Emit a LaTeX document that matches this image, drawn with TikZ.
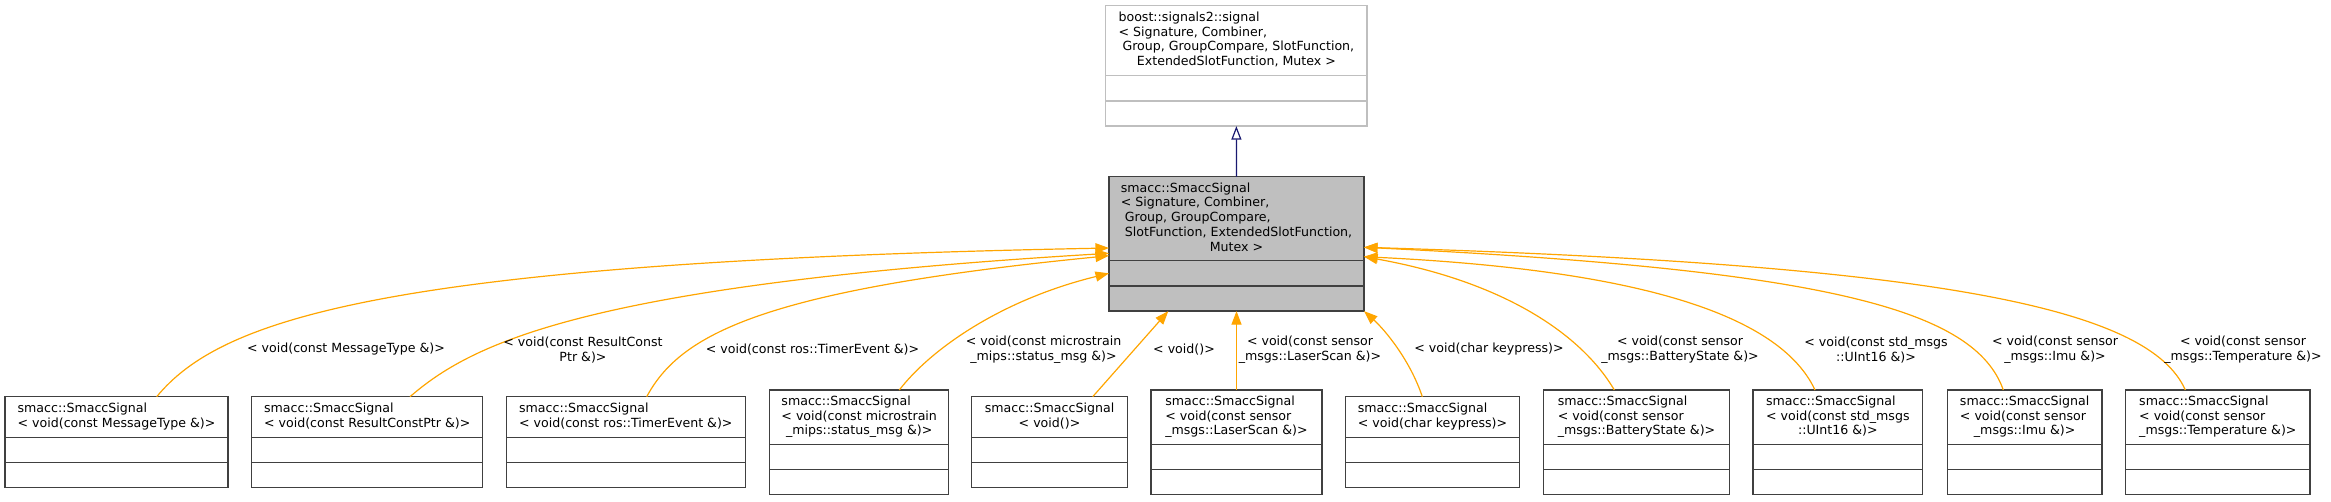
\documentclass[tikz,border=0pt]{standalone}
\usepackage{fontspec}
\setmainfont{DejaVu Sans}
\usetikzlibrary{positioning,arrows.meta}
\definecolor{grey75}{HTML}{BFBFBF}
\definecolor{clsline}{HTML}{404040}
\definecolor{edgeorange}{HTML}{FFA500}
\definecolor{navy}{HTML}{191970}
\newcommand{\clstext}[2]{\begin{tabular}{@{}l@{}}#1\\\multicolumn{1}{@{}c@{}}{#2}\end{tabular}}

\begin{document}
\begin{tikzpicture}[x=1pt,y=-1pt,font=\fontsize{12.6}{14.7}\selectfont]
		\tikzstyle{cls}=[draw=clsline,line width=1.3pt,fill=white,inner sep=0pt,outer sep=0pt,anchor=north]
		\tikzstyle{body}=[cls,minimum height=50.4,path picture={\draw[clsline,line width=1.3pt] (path picture bounding box.west) -- (path picture bounding box.east);}]
		\tikzstyle{gbody}=[body,draw=grey75,path picture={\draw[grey75,line width=1.3pt] (path picture bounding box.west) -- (path picture bounding box.east);}]
		\tikzstyle{tmpl}=[draw=edgeorange,line width=1.2pt,-{Triangle[length=13.5pt,width=10pt]}]
		\tikzstyle{inh}=[draw=navy,line width=1.2pt,-{Triangle[open,length=13.5pt,width=10pt]}]
		\tikzstyle{lbl}=[align=center,inner sep=0pt]
		\useasboundingbox (0,0) rectangle (2331,501);

		% base and main class
		\node (base) at (1236.35,5.7) [cls,draw=grey75,minimum width=261.3,minimum height=70] {\clstext{boost::signals2::signal\\< Signature, Combiner,\\\ Group, GroupCompare, SlotFunction,}{ExtendedSlotFunction, Mutex >}};
		\node (baseb) [gbody,minimum width=261.3,below=0pt of base] {};
		\node (sig) at (1236.5,176.7) [cls,fill=grey75,minimum width=255,minimum height=84] {\clstext{smacc::SmaccSignal\\< Signature, Combiner,\\\ Group, GroupCompare,\\\ SlotFunction, ExtendedSlotFunction,}{Mutex >}};
		\node (sigb) [body,fill=grey75,minimum width=255,below=0pt of sig] {};

		% template instances
		\node (msg) at (116.5,396.7) [cls,minimum width=223,minimum height=40.6] {\clstext{smacc::SmaccSignal}{< void(const MessageType \&)>}};
		\node (msgb) [body,minimum width=223,below=0pt of msg] {};
		\node (res) at (367.2,396.7) [cls,minimum width=231,minimum height=40.6] {\clstext{smacc::SmaccSignal}{< void(const ResultConstPtr \&)>}};
		\node (resb) [body,minimum width=231,below=0pt of res] {};
		\node (timer) at (625.8,396.7) [cls,minimum width=239,minimum height=40.6] {\clstext{smacc::SmaccSignal}{< void(const ros::TimerEvent \&)>}};
		\node (timerb) [body,minimum width=239,below=0pt of timer] {};
		\node (mips) at (859.2,390) [cls,minimum width=179,minimum height=54.3] {\clstext{smacc::SmaccSignal\\< void(const microstrain}{\_mips::status\_msg \&)>}};
		\node (mipsb) [body,minimum width=179,below=0pt of mips] {};
		\node (void) at (1049.5,396.7) [cls,minimum width=155.6,minimum height=40.6] {\clstext{smacc::SmaccSignal}{< void()>}};
		\node (voidb) [body,minimum width=155.6,below=0pt of void] {};
		\node (laser) at (1236.5,390) [cls,minimum width=171,minimum height=54.3] {\clstext{smacc::SmaccSignal\\< void(const sensor}{\_msgs::LaserScan \&)>}};
		\node (laserb) [body,minimum width=171,below=0pt of laser] {};
		\node (key) at (1432.5,396.7) [cls,minimum width=173.6,minimum height=40.6] {\clstext{smacc::SmaccSignal}{< void(char keypress)>}};
		\node (keyb) [body,minimum width=173.6,below=0pt of key] {};
		\node (batt) at (1636.5,390) [cls,minimum width=185.6,minimum height=54.3] {\clstext{smacc::SmaccSignal\\< void(const sensor}{\_msgs::BatteryState \&)>}};
		\node (battb) [body,minimum width=185.6,below=0pt of batt] {};
		\node (uint) at (1837.85,390) [cls,minimum width=169.7,minimum height=54.3] {\clstext{smacc::SmaccSignal\\< void(const std\_msgs}{::UInt16 \&)>}};
		\node (uintb) [body,minimum width=169.7,below=0pt of uint] {};
		\node (imu) at (2024.65,390) [cls,minimum width=154.7,minimum height=54.3] {\clstext{smacc::SmaccSignal\\< void(const sensor}{\_msgs::Imu \&)>}};
		\node (imub) [body,minimum width=154.7,below=0pt of imu] {};
		\node (temp) at (2217.85,390) [cls,minimum width=184.3,minimum height=54.3] {\clstext{smacc::SmaccSignal\\< void(const sensor}{\_msgs::Temperature \&)>}};
		\node (tempb) [body,minimum width=184.3,below=0pt of temp] {};

		\draw [inh] (sig.north) -- (baseb.south);

		\draw [tmpl] ([xshift=40.2pt]msg.north) .. controls (220,320) and (380,262) .. ([yshift=12.7pt]sig.south west);
		\draw [tmpl] ([xshift=42.8pt]res.north) .. controls (470,345) and (580,285) .. ([yshift=7.4pt]sig.south west);
		\draw [tmpl] ([xshift=20.9pt]timer.north) .. controls (680,335) and (760,290) .. ([yshift=5pt]sig.south west);
		\draw [tmpl] ([xshift=40.1pt]mips.north) .. controls (930,350) and (1000,300) .. ([yshift=-12.6pt]sigb.north west);
		\draw [tmpl] ([xshift=43.2pt]void.north) -- ([xshift=59.3pt]sigb.south west);
		\draw [tmpl] (laser.north) -- (sigb.south);
		\draw [tmpl] ([xshift=-10.2pt]key.north) .. controls (1410,360) and (1385,330) .. (sigb.south east);
		\draw [tmpl] ([xshift=-22.2pt]batt.north) .. controls (1582,335) and (1505,282) .. ([yshift=4pt]sig.south east);
		\draw [tmpl] ([xshift=-22.85pt]uint.north) .. controls (1780,315) and (1640,270) .. ([yshift=4pt]sig.south east);
		\draw [tmpl] ([xshift=-21.35pt]imu.north) .. controls (1975,310) and (1830,270) .. ([yshift=13.4pt]sig.south east);
		\draw [tmpl] ([xshift=-32.55pt]temp.north) .. controls (2150,310) and (1950,265) .. ([yshift=13.4pt]sig.south east);

		% edge labels
		\node (lmsg) at (346,349.3) [lbl] {< void(const MessageType \&)>};
		\node (lres) at (583,349.7) [lbl] {< void(const ResultConst\\Ptr \&)>};
		\node (ltimer) at (812.5,349.3) [lbl] {< void(const ros::TimerEvent \&)>};
		\node (lmips) at (1043.5,349.7) [lbl] {< void(const microstrain\\\_mips::status\_msg \&)>};
		\node (lvoid) at (1184,349.3) [lbl] {< void()>};
		\node (llaser) at (1310,349.7) [lbl] {< void(const sensor\\\_msgs::LaserScan \&)>};
		\node (lkey) at (1489,349.3) [lbl] {< void(char keypress)>};
		\node (lbatt) at (1680,349.7) [lbl] {< void(const sensor\\\_msgs::BatteryState \&)>};
		\node (luint) at (1876,349.7) [lbl] {< void(const std\_msgs\\::UInt16 \&)>};
		\node (limu) at (2055,349.7) [lbl] {< void(const sensor\\\_msgs::Imu \&)>};
		\node (ltemp) at (2243,349.7) [lbl] {< void(const sensor\\\_msgs::Temperature \&)>};
	\end{tikzpicture}
\end{document}
